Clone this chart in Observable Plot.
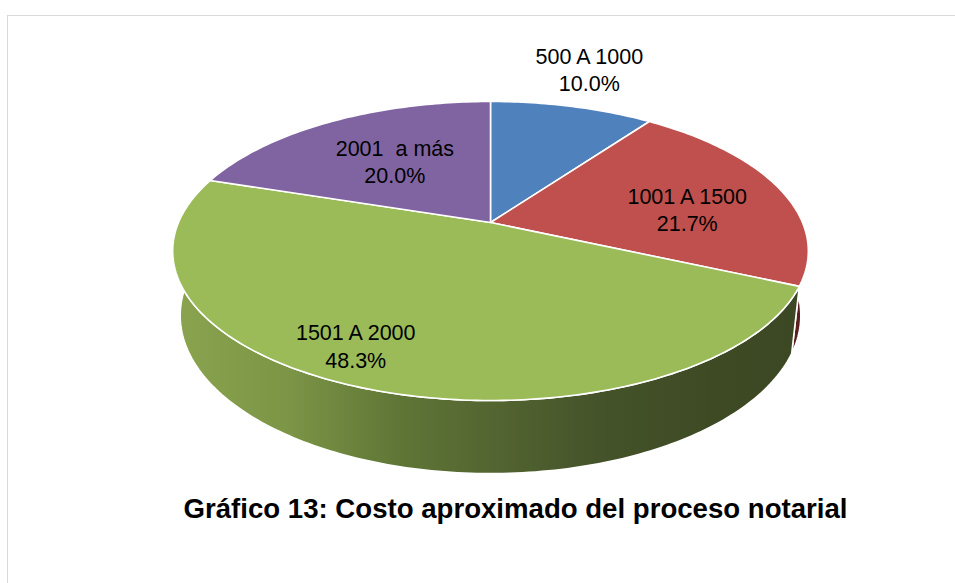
<!DOCTYPE html>
<html><head><meta charset="utf-8">
<script src="https://cdn.jsdelivr.net/npm/d3@7"></script>
<script src="https://cdn.jsdelivr.net/npm/@observablehq/plot@0.6"></script>
<style>
html,body{margin:0;padding:0;background:#fff;}
#wrap{position:relative;width:955px;height:583px;overflow:hidden;}
#frame{position:absolute;left:7px;top:15px;width:960px;height:580px;border-top:1px solid #d9d9d9;border-left:1px solid #d9d9d9;}
#chart{position:absolute;left:0;top:0;}
#title{position:absolute;left:0;top:493px;width:955px;text-align:center;padding-left:76px;box-sizing:border-box;font:bold 27.6px "Liberation Sans",Arial,sans-serif;color:#000;line-height:31px;white-space:nowrap;}
svg text{white-space:pre;}
</style></head><body>
<div id="wrap"><div id="frame"></div><div id="chart"></div><div id="title">Gráfico 13: Costo aproximado del proceso notarial</div></div>
<script>
// ---- data ----
const categories = ["500 A 1000", "1001 A 1500", "1501 A 2000", "2001  a más"];
const values = [10.0, 21.7, 48.3, 20.0];
const topColors = ["#4F81BD", "#C0504D", "#9BBB59", "#8064A2"];
const wallColors = ["#2c4a6e", "#5a1f1f", "url(#greenWall)", "#45365a"];

// ---- layout (3D view) ----
const W = 955, H = 485;
const view = {cx: 490, cy: 222, k: 312, tilt: 27.5 * Math.PI / 180, D: 4.653, depth: 0.235};
const labelLayout = [ {r: 1.40, shift: -1.5}, {r: 0.65, shift: 6.2}, {r: 0.82, shift: 5.9}, {r: 0.575, shift: 0.5} ];

const s = Math.sin(view.tilt), c = Math.cos(view.tilt);
function proj(a, b, z) {
  const yw = b * s + z * c;
  const dw = b * c - z * s;
  const f = view.D / (view.D + dw);
  return [view.cx + view.k * a * f, view.cy - view.k * yw * f];
}
const total = d3.sum(values);
let acc = 0;
const slices = values.map((v, i) => {
  const t0 = acc / total * 360; acc += v; const t1 = acc / total * 360;
  return {i, t0, t1, mid: (t0 + t1) / 2};
});
function arc(t0, t1, r, z) {
  const n = Math.max(2, Math.ceil(Math.abs(t1 - t0)));
  const pts = [];
  for (let j = 0; j <= n; j++) {
    const t = (t0 + (t1 - t0) * j / n) * Math.PI / 180;
    pts.push(proj(r * Math.sin(t), r * Math.cos(t), z));
  }
  return pts;
}
function topPoly(sl) {
  const ctr = proj(0, 0, 0);
  return [ctr, ...arc(sl.t0, sl.t1, 1, 0), ctr];
}
function wallPoly(sl) {
  const up = arc(sl.t0, sl.t1, 1, 0);
  const dn = arc(sl.t1, sl.t0, 1, -view.depth);
  return [...up, ...dn, up[0]];
}
const toRows = (pts, id) => pts.map(([x, y]) => ({id, x, y}));

const marks = [];
const wallOrder = [0, 3, 1, 2];
for (const i of wallOrder) {
  marks.push(Plot.line(toRows(wallPoly(slices[i]), "w" + i), {x: "x", y: "y", fill: wallColors[i], stroke: "white", strokeWidth: 1.6, strokeLinejoin: "round", curve: "linear"}));
}
for (const i of [0, 1, 2, 3]) {
  marks.push(Plot.line(toRows(topPoly(slices[i]), "t" + i), {x: "x", y: "y", fill: topColors[i], stroke: "white", strokeWidth: 1.6, strokeLinejoin: "round", curve: "linear"}));
}
const labels = slices.map(sl => {
  const L = labelLayout[sl.i];
  const t = (sl.mid + L.shift) * Math.PI / 180;
  const [x, y] = proj(L.r * Math.sin(t), L.r * Math.cos(t), 0);
  return {x, y, text: categories[sl.i] + "\n" + values[sl.i].toFixed(1) + "%"};
});
marks.push(Plot.text(labels, {x: "x", y: "y", text: "text", lineAnchor: "middle", lineHeight: 1.3, fontSize: 21.5, fontFamily: "Liberation Sans, Arial, sans-serif", fill: "#000"}));

const svg = Plot.plot({
  width: W, height: H, margin: 0,
  x: {type: "identity", axis: null},
  y: {type: "identity", axis: null},
  style: {background: "transparent"},
  marks
});
const defs = d3.select(svg).insert("defs", ":first-child");
const g = defs.append("linearGradient").attr("id", "greenWall").attr("gradientUnits", "userSpaceOnUse")
  .attr("x1", view.cx - view.k * 1.02).attr("x2", view.cx + view.k * 1.02).attr("y1", 0).attr("y2", 0);
[[0, "#8aa44f"], [0.18, "#7c9546"], [0.36, "#5f7536"], [0.67, "#45532a"], [0.85, "#3d4a24"], [1, "#3c4823"]]
  .forEach(([o, col]) => g.append("stop").attr("offset", o).attr("stop-color", col));
document.getElementById("chart").appendChild(svg);
</script>
</body></html>
